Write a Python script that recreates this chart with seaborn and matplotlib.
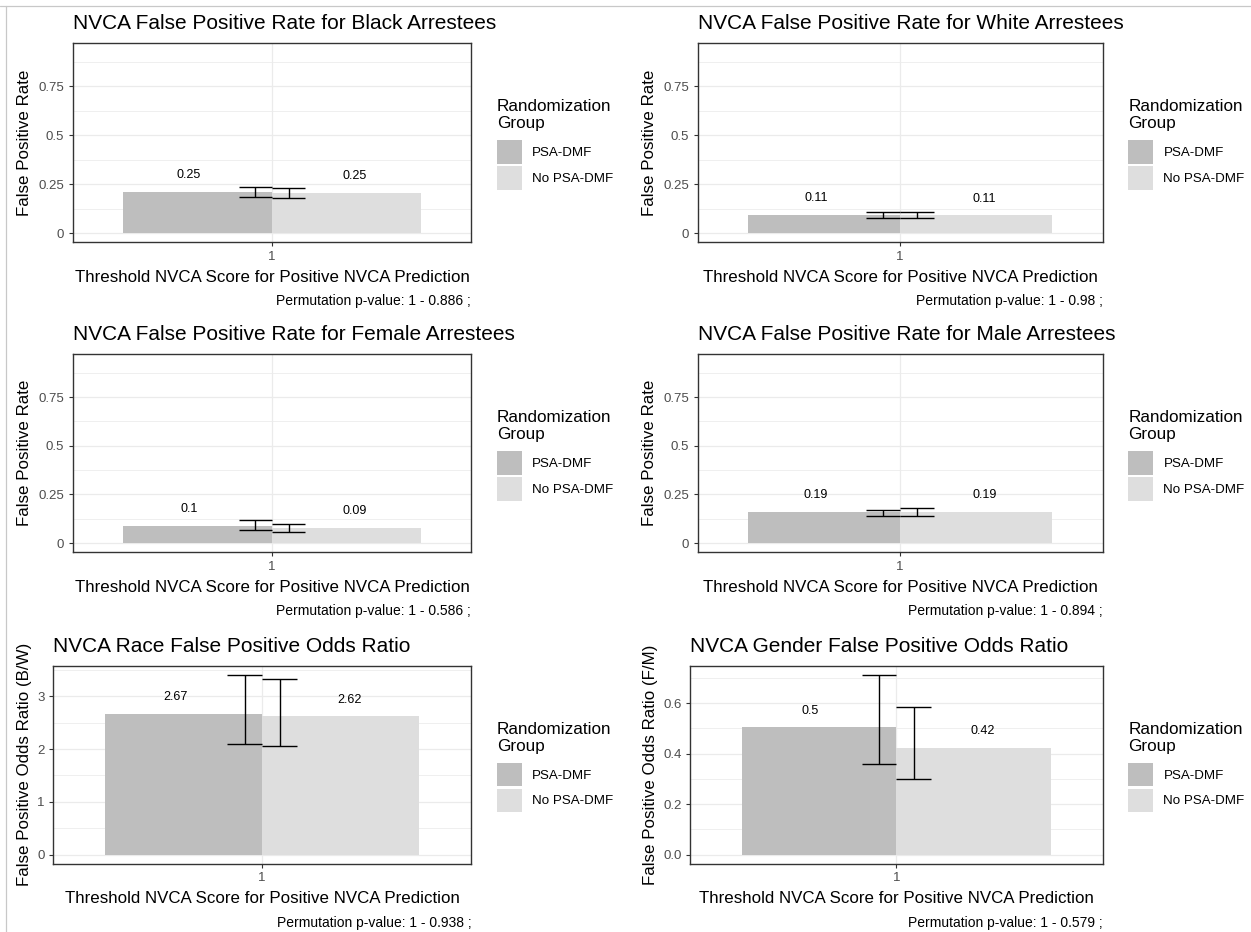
import matplotlib
matplotlib.use("Agg")
import matplotlib.pyplot as plt
from matplotlib.lines import Line2D
import seaborn as sns
import pandas as pd

sns.set_style("white")
plt.rcParams['font.family'] = ['Liberation Sans', 'DejaVu Sans']
plt.rcParams['text.color'] = 'black'
plt.rcParams['axes.labelcolor'] = 'black'

# ---------------- data ----------------
groups = ["PSA-DMF", "No PSA-DMF"]
threshold = "1"
bar_colors = ["#bebebe", "#dedede"]

black_val = [0.211, 0.206]
black_lo = [0.187, 0.178]
black_hi = [0.235, 0.230]
black_lab = ["0.25", "0.25"]
black_p = "0.886"

white_val = [0.093, 0.092]
white_lo = [0.077, 0.076]
white_hi = [0.106, 0.109]
white_lab = ["0.11", "0.11"]
white_p = "0.98"

female_val = [0.090, 0.079]
female_lo = [0.065, 0.058]
female_hi = [0.117, 0.099]
female_lab = ["0.1", "0.09"]
female_p = "0.586"

male_val = [0.162, 0.162]
male_lo = [0.141, 0.141]
male_hi = [0.172, 0.181]
male_lab = ["0.19", "0.19"]
male_p = "0.894"

race_val = [2.67, 2.62]
race_lo = [2.10, 2.056]
race_hi = [3.408, 3.332]
race_lab = ["2.67", "2.62"]
race_p = "0.938"

gender_val = [0.504, 0.423]
gender_lo = [0.360, 0.301]
gender_hi = [0.712, 0.586]
gender_lab = ["0.5", "0.42"]
gender_p = "0.579"

rate_ticks = [0, 0.25, 0.5, 0.75]
rate_ticklabels = ["0", "0.25", "0.5", "0.75"]
race_ticks = [0, 1, 2, 3]
race_ticklabels = ["0", "1", "2", "3"]
gender_ticks = [0.0, 0.2, 0.4, 0.6]
gender_ticklabels = ["0.0", "0.2", "0.4", "0.6"]

xlabel = "Threshold NVCA Score for Positive NVCA Prediction"
rate_ylabel = "False Positive Rate"

W, H = 1251, 932
fig = plt.figure(figsize=(W / 100, H / 100), dpi=100)
fig.patch.set_facecolor("white")

# thin frame lines (screenshot border)
fig.add_artist(Line2D([0, 1], [1 - 5.5 / H, 1 - 5.5 / H], transform=fig.transFigure,
                      color="#c8c8c8", lw=0.9))
fig.add_artist(Line2D([6 / W, 6 / W], [0, 1 - 5.5 / H], transform=fig.transFigure,
                      color="#c8c8c8", lw=0.9))


def panel(rect, title, ylabel, ylab_x, vals, lo, hi, labs, pval, ylim, ticks, ticklabels):
    x0, y0, x1, y1 = rect
    w, h = x1 - x0, y1 - y0
    ax = fig.add_axes([x0 / W, 1 - y1 / H, w / W, h / H])
    df = pd.DataFrame({"thr": [threshold] * len(groups), "group": groups, "val": vals})
    sns.barplot(data=df, x="thr", y="val", hue="group", hue_order=groups,
                palette=bar_colors, width=0.9, saturation=1, errorbar=None,
                linewidth=0, ax=ax, zorder=2)
    # error bars (dodged)
    offs = [-0.05, 0.05]
    for i in range(len(groups)):
        xc = offs[i]
        ax.vlines(xc, lo[i], hi[i], color="black", lw=1.0, zorder=3)
        ax.hlines([lo[i], hi[i]], xc - 0.05, xc + 0.05, color="black", lw=1.0, zorder=3)
    span = ylim[1] - ylim[0]
    lab_offs = [-0.25, 0.25]
    for i in range(len(groups)):
        ax.text(lab_offs[i], vals[i] + 0.083 * span, labs[i], ha="center", va="center",
                fontsize=9, color="black", zorder=4)
    ax.set_xlim(-0.6, 0.6)
    ax.set_ylim(*ylim)
    ax.set_xticks([0])
    ax.set_xticklabels([threshold])
    ax.set_yticks(ticks)
    ax.set_yticklabels(ticklabels)
    minor = [t + (ticks[1] - ticks[0]) / 2 for t in ticks]
    ax.set_yticks(minor, minor=True)
    ax.set_axisbelow(True)
    ax.yaxis.grid(True, which="major", color="#ebebeb", lw=0.9)
    ax.yaxis.grid(True, which="minor", color="#ebebeb", lw=0.55)
    ax.xaxis.grid(True, which="major", color="#ebebeb", lw=0.9)
    ax.tick_params(axis="both", which="major", length=2.75, width=0.8, color="#333333",
                   labelcolor="#4d4d4d", labelsize=9.5, pad=3.4, left=True, bottom=True)
    ax.tick_params(axis="both", which="minor", length=0)
    for s in ax.spines.values():
        s.set_color("#333333")
        s.set_linewidth(1.0)
        s.set_visible(True)
    ax.set_xlabel(xlabel, fontsize=12.2, color="black")
    ax.xaxis.set_label_coords(0.5, -35 / h)
    ax.xaxis.label.set_va("center")
    ax.set_ylabel(ylabel, fontsize=12.2, color="black")
    ax.yaxis.set_label_coords(-(x0 - ylab_x) / w, 0.5)
    ax.yaxis.label.set_va("center")
    ax.set_title(title, loc="left", fontsize=15, y=1 + 19.5 / h, pad=0, va="center",
                 color="black")
    ax.text(1.0, -59 / h, f"Permutation p-value: 1 - {pval} ;", transform=ax.transAxes,
            ha="right", va="center", fontsize=10, color="black")
    sns.move_legend(ax, "upper left", bbox_to_anchor=(1 + 25.8 / w, 1 - 56 / h),
                    frameon=False, title="Randomization\nGroup", fontsize=9.6,
                    title_fontsize=12.3, borderpad=0, borderaxespad=0,
                    handlelength=1.88, handleheight=2.33, labelspacing=0.17,
                    handletextpad=0.75, alignment="left", labelcolor="black")
    leg = ax.get_legend()
    leg.get_title().set_linespacing(1.18)
    leg.get_title().set_color("black")
    # extra space between legend title and keys
    leg._legend_box.sep = 6.5
    return ax


rate_ylim = (-0.047, 0.97)
panel((72.8, 43.3, 471.2, 242.3), "NVCA False Positive Rate for Black Arrestees", rate_ylabel, 24.5,
      black_val, black_lo, black_hi, black_lab, black_p, rate_ylim, rate_ticks, rate_ticklabels)
panel((697.7, 43.3, 1102.6, 242.3), "NVCA False Positive Rate for White Arrestees", rate_ylabel, 649.6,
      white_val, white_lo, white_hi, white_lab, white_p, rate_ylim, rate_ticks, rate_ticklabels)
panel((72.8, 354.3, 471.2, 552.3), "NVCA False Positive Rate for Female Arrestees", rate_ylabel, 24.5,
      female_val, female_lo, female_hi, female_lab, female_p, rate_ylim, rate_ticks, rate_ticklabels)
panel((697.7, 354.3, 1102.6, 552.3), "NVCA False Positive Rate for Male Arrestees", rate_ylabel, 649.6,
      male_val, male_lo, male_hi, male_lab, male_p, rate_ylim, rate_ticks, rate_ticklabels)
panel((53.2, 665.7, 471.2, 863.7), "NVCA Race False Positive Odds Ratio", "False Positive Odds Ratio (B/W)", 25,
      race_val, race_lo, race_hi, race_lab, race_p, (-0.17, 3.578), race_ticks, race_ticklabels)
panel((690.3, 665.7, 1102.6, 863.7), "NVCA Gender False Positive Odds Ratio", "False Positive Odds Ratio (F/M)", 650.7,
      gender_val, gender_lo, gender_hi, gender_lab, gender_p, (-0.0356, 0.7476), gender_ticks, gender_ticklabels)

fig.savefig("out.png", dpi=100, facecolor="white")
